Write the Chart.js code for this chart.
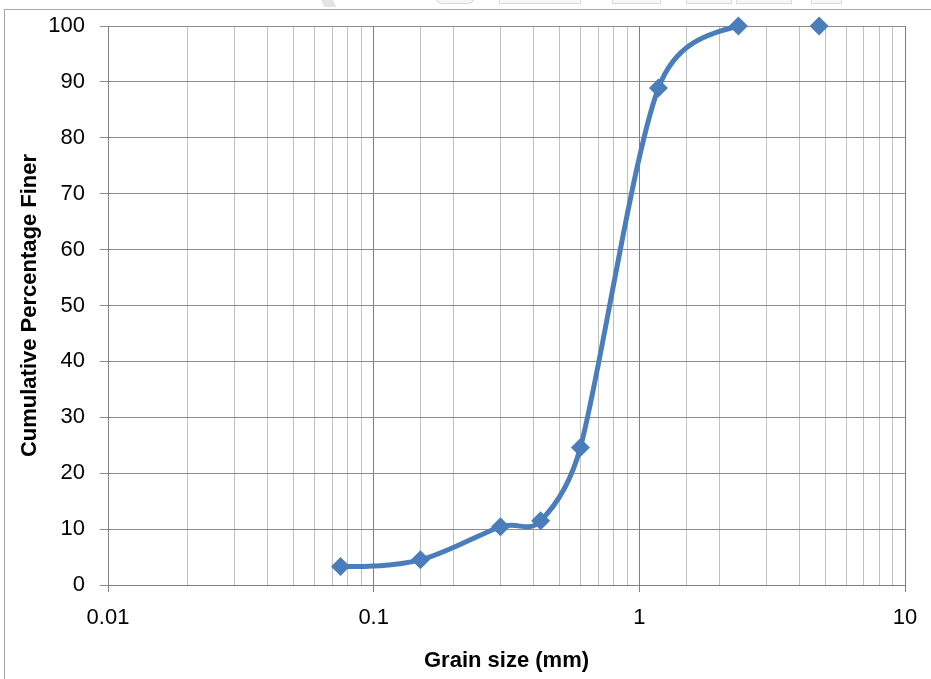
<!DOCTYPE html>
<html>
<head>
<meta charset="utf-8">
<script src="https://cdn.jsdelivr.net/npm/chart.js@4/dist/chart.umd.min.js"></script>
<style>
  body { margin: 0; background: #fff; }
  #wrap { position: relative; width: 931px; height: 679px; overflow: hidden; }
  #frame { position: absolute; left: 4px; top: 9px; right: 0; bottom: 0;
           border-left: 1px solid #a6a6a6; border-top: 1px solid #a6a6a6; }
  .mark { position: absolute; top: -2px; height: 4px; border: 1px solid #dadada; background: #f7f7f7; }
  canvas { position: absolute; left: 0; top: 0; }
</style>
</head>
<body>
<div id="wrap">
  <!-- faint watermark bits above the frame -->
  <div class="mark" style="left:322px;top:-3px;width:12px;height:10px;border:none;background:#e4e4e4;transform:skewX(25deg);"></div>
  <div class="mark" style="left:436px;width:36px;border-radius:0 0 18px 18px;"></div>
  <div class="mark" style="left:499px;width:80px;"></div>
  <div class="mark" style="left:612px;width:47px;"></div>
  <div class="mark" style="left:686px;width:44px;"></div>
  <div class="mark" style="left:736px;width:54px;"></div>
  <div class="mark" style="left:811px;width:29px;"></div>
  <div id="frame"></div>
  <canvas id="sieveChart" width="931" height="679"></canvas>
</div>
<script>
// sieve analysis values
const grainSize = [0.075, 0.15, 0.3, 0.425, 0.6, 1.18, 2.36];
const percentFiner = [3.3, 4.5, 10.4, 11.5, 24.6, 88.9, 100];
// last sieve, drawn as a marker only
const extraSize = [4.75];
const extraFiner = [100];

const blue = '#4a7ebb';
const family = 'Liberation Sans, Arial, sans-serif';
const titleFont = { family: family, size: 22, weight: 'bold' };

function isDecade(v) {
    const l = Math.log10(v);
    return Math.abs(l - Math.round(l)) < 1e-6;
}

const toPoints = (xs, ys) => xs.map((x, i) => ({ x: x, y: ys[i] }));

// Excel-like smoothing: tangent along the neighbour chord, handle = chord/6,
// but never longer than about half of the segment it belongs to.
// End handles aim at the neighbour's handle.
const excelSmooth = {
    id: 'excelSmooth',
    beforeDatasetsDraw(chart) {
        const meta = chart.getDatasetMeta(0);
        meta.dataset.updateControlPoints(chart.chartArea);
        const pts = meta.data;
        const n = pts.length;
        const dist = (a, b) => Math.hypot(b.x - a.x, b.y - a.y);
        for (let i = 1; i < n - 1; i++) {
            const p = pts[i], prev = pts[i - 1], next = pts[i + 1];
            const dx = next.x - prev.x, dy = next.y - prev.y;
            const len = Math.hypot(dx, dy) || 1;
            const back = Math.min(len / 6, dist(prev, p) * 0.48);
            const fwd = Math.min(len / 6, dist(p, next) * 0.48);
            p.cp1x = p.x - dx / len * back;
            p.cp1y = p.y - dy / len * back;
            p.cp2x = p.x + dx / len * fwd;
            p.cp2y = p.y + dy / len * fwd;
        }
        const first = pts[0], last = pts[n - 1];
        first.cp2x = first.x + (pts[1].cp1x - first.x) * 0.5;
        first.cp2y = first.y + (pts[1].cp1y - first.y) * 0.5;
        first.cp1x = first.x; first.cp1y = first.y;
        last.cp1x = last.x + (pts[n - 2].cp2x - last.x) * 0.5;
        last.cp1y = last.y + (pts[n - 2].cp2y - last.y) * 0.5;
        last.cp2x = last.x; last.cp2y = last.y;
    }
};

new Chart(document.getElementById('sieveChart'), {
    type: 'scatter',
    data: {
        datasets: [{
            data: toPoints(grainSize, percentFiner),
            showLine: true,
            borderColor: blue,
            borderWidth: 5,
            tension: 0.4,
            pointStyle: 'rectRot',
            pointRadius: 9.5,
            pointBackgroundColor: blue,
            pointBorderColor: blue,
            pointBorderWidth: 0,
            clip: false
        }, {
            data: toPoints(extraSize, extraFiner),
            showLine: false,
            pointStyle: 'rectRot',
            pointRadius: 9.5,
            pointBackgroundColor: blue,
            pointBorderColor: blue,
            pointBorderWidth: 0,
            clip: false
        }]
    },
    options: {
        responsive: false,
        animation: false,
        devicePixelRatio: 1,
        layout: { padding: { left: 0, right: 26, top: 26, bottom: 0 } },
        plugins: { legend: { display: false }, tooltip: { enabled: false } },
        scales: {
            x: {
                type: 'logarithmic',
                min: 0.01,
                max: 10,
                afterFit: (scale) => { scale.height = 94; },
                grid: {
                    color: (ctx) => (ctx.tick && isDecade(ctx.tick.value)) ? '#7f7f7f' : '#c0c0c0',
                    tickColor: (ctx) => (ctx.tick && isDecade(ctx.tick.value)) ? '#7f7f7f' : 'rgba(0,0,0,0)',
                    tickLength: 7
                },
                border: { color: '#808080' },
                ticks: {
                    autoSkip: false,
                    maxRotation: 0,
                    color: '#000',
                    padding: 13,
                    font: { family: family, size: 22 },
                    callback: (value) => isDecade(value) ? String(Number(value.toPrecision(2))) : ''
                },
                title: {
                    display: true,
                    text: 'Grain size (mm)',
                    color: '#000',
                    padding: { top: 0, bottom: 5 },
                    font: titleFont
                }
            },
            y: {
                min: 0,
                max: 100,
                afterFit: (scale) => { scale.width = 108; },
                grid: { color: '#8c8c8c', tickColor: '#8c8c8c', tickLength: 8 },
                border: { color: '#808080' },
                ticks: {
                    stepSize: 10,
                    color: '#000',
                    padding: 15,
                    font: { family: family, size: 22, lineHeight: 1 }
                },
                title: {
                    display: true,
                    text: 'Cumulative Percentage Finer',
                    color: '#000',
                    padding: { top: 17, bottom: 0 },
                    font: titleFont
                }
            }
        }
    },
    plugins: [excelSmooth]
});
</script>
</body>
</html>
